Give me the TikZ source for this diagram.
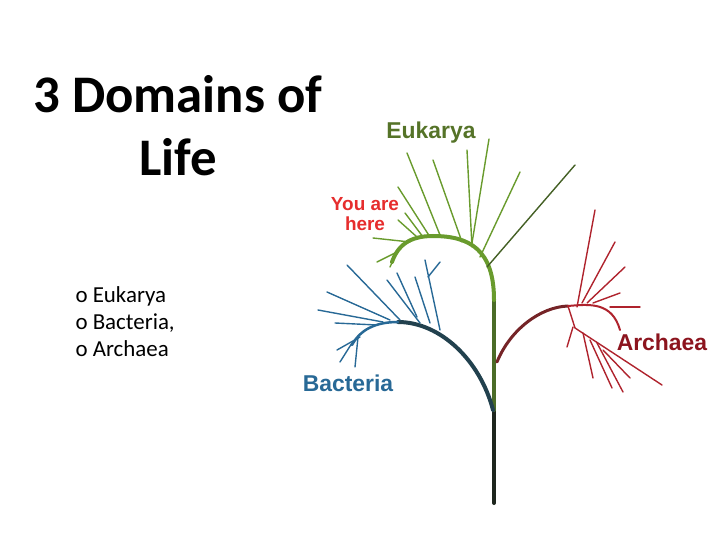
\documentclass[tikz,border=0pt]{standalone}
\usepackage{fontspec}
\setmainfont{Carlito}
\newfontfamily\labelfont{Liberation Sans}
\usetikzlibrary{positioning}
\definecolor{eukgreen}{RGB}{105,155,45}
\definecolor{euklabel}{RGB}{85,115,40}
\definecolor{bacblue}{RGB}{40,105,150}
\definecolor{arcred}{RGB}{175,35,45}
\definecolor{arclabel}{RGB}{140,20,30}
\definecolor{herered}{RGB}{230,45,45}
\definecolor{trunkdark}{RGB}{30,38,30}
\begin{document}
\begin{tikzpicture}[
    x=1bp, y=-1bp,
    twig/.style={line width=1.4bp, line cap=round},
    limb/.style={line width=4bp, line cap=round},
    tag/.style={font=\labelfont\bfseries\fontsize{23}{24}\selectfont, align=center},
]
\useasboundingbox (0,0) rectangle (720,540);

% Title and list
\node[font=\bfseries\fontsize{53}{63}\selectfont, align=center] (title) at (178,126) {3 Domains of\\Life};
\node[font=\fontsize{23}{27}\selectfont, align=left, anchor=west] (list) at (72,322) {o Eukarya\\o Bacteria,\\o Archaea};

% Trunk and main limbs
\draw[limb, trunkdark] (494,503) -- (494,410);
\draw[limb, eukgreen!60!trunkdark] (494,410) -- (494,300);
\draw[limb, eukgreen] (494,300) .. controls (494,250) and (470,236) .. (433,236)
    .. controls (410,236) and (398,245) .. (392,262);
\draw[limb, bacblue!40!trunkdark] (493,410) .. controls (480,360) and (440,322) .. (398,322);
\draw[limb, bacblue, line width=2.5bp] (398,322) .. controls (375,322) and (360,330) .. (352,345);
\draw[limb, arcred!60!trunkdark, line width=3bp] (497,362) .. controls (510,330) and (540,307) .. (568,306);
\draw[twig, arcred, line width=2bp] (568,306) .. controls (590,304) and (612,302) .. (620,330);
\draw[twig, arcred] (568,306) -- (575,328) -- (662,385);

% Eukarya twigs
\foreach \a/\b/\c/\d in {407/153/440/235, 433/160/462/242, 467/150/472/247, 489/139/472/243,
    520/172/480/257, 398/187/430/237, 405/213/423/237, 398/220/417/237, 373/238/410/242,
    377/262/397/252, 390/267/397/252}
  \draw[twig, eukgreen] (\a,\b) -- (\c,\d);
\draw[twig, eukgreen!50!trunkdark] (575,165) -- (487,267);

% Bacteria twigs
\foreach \a/\b/\c/\d in {347/265/400/320, 327/292/390/320, 318/310/383/322, 335/323/377/325,
    387/280/420/323, 397/273/417/317, 415/277/430/323, 425/260/440/330, 440/262/428/277,
    337/350/360/337, 355/367/358/337, 340/362/352/343}
  \draw[twig, bacblue] (\a,\b) -- (\c,\d);

% Archaea twigs
\foreach \a/\b/\c/\d in {595/210/577/307, 615/242/582/303, 625/267/587/303, 620/293/593/303,
    640/307/610/307, 567/347/573/327, 593/378/583/333, 612/388/590/340, 623/392/597/343,
    630/378/603/350}
  \draw[twig, arcred] (\a,\b) -- (\c,\d);

% Labels
\node[tag, euklabel] (eukarya) at (431,133) {Eukarya};
\node[tag, herered, font=\labelfont\bfseries\fontsize{19}{20}\selectfont] (here) at (365,214) {You are\\here};
\node[tag, bacblue] (bacteria) at (348,383) {Bacteria};
\node[tag, arclabel] (archaea) at (662,342) {Archaea};
\end{tikzpicture}
\end{document}
